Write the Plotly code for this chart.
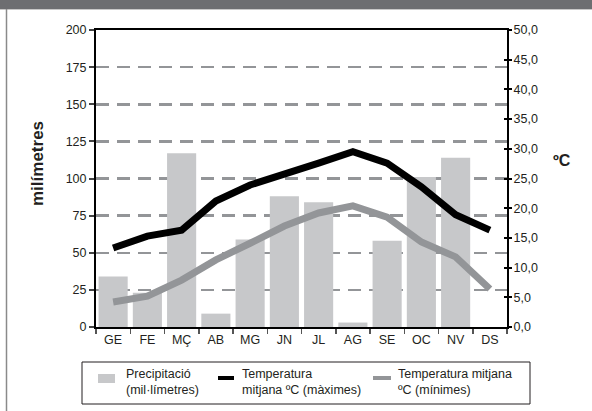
import plotly.graph_objects as go

months = ["GE", "FE", "MÇ", "AB", "MG", "JN", "JL", "AG", "SE", "OC", "NV", "DS"]
precip = [34, 23, 117, 9, 59, 88, 84, 3, 58, 101, 114, 0]
tmax = [13.3, 15.3, 16.3, 21.2, 23.9, 25.6, 27.6, 29.5, 27.6, 23.6, 18.9, 16.3]
tmin = [4.2, 5.2, 7.9, 11.3, 14.1, 17.0, 19.2, 20.4, 18.5, 14.3, 11.8, 6.4]
legend_labels = ["Precipitació<br>(mil·límetres)",
                 "Temperatura<br>mitjana ºC (màximes)",
                 "Temperatura mitjana<br>ºC (mínimes)"]

W, H = 592, 411
L, R, T, B = 96, 85, 30, 84
PW, PH = W - L - R, H - T - B


def px(x):
    return (x - L) / PW


def py(y):
    return (H - B - y) / PH


FONT = "Liberation Sans, Arial, sans-serif"
TXT = "#231f20"
BAR_C = "#c7c8ca"
MAX_C = "#000000"
MIN_C = "#939598"

fig = go.Figure()
fig.add_trace(go.Bar(
    x=months, y=precip, name=legend_labels[0],
    marker=dict(color=BAR_C, line=dict(width=0)), yaxis="y",
))
fig.add_trace(go.Scatter(
    x=months, y=tmax, name=legend_labels[1],
    mode="lines", line=dict(color=MAX_C, width=7), yaxis="y2",
))
fig.add_trace(go.Scatter(
    x=months, y=tmin, name=legend_labels[2],
    mode="lines", line=dict(color=MIN_C, width=7), yaxis="y3",
))

# manual legend (box, swatches, labels)
ly0, ly1 = 362, 404
lyc = (ly0 + ly1) / 2 - 1
shapes = [
    dict(type="rect", xref="paper", yref="paper",
         x0=px(0), x1=px(W), y0=py(9), y1=py(0),
         fillcolor="#6d6e71", line=dict(width=0), layer="above"),
    dict(type="line", xref="paper", yref="paper",
         x0=px(0), x1=px(W), y0=py(9.5), y1=py(9.5),
         line=dict(color="#c8c8c8", width=1)),
    dict(type="line", xref="paper", yref="paper",
         x0=px(6.5), x1=px(6.5), y0=py(9), y1=py(H),
         line=dict(color="#8a8a8a", width=1.5)),
    dict(type="rect", xref="paper", yref="paper",
         x0=px(82), x1=px(530), y0=py(ly1), y1=py(ly0),
         fillcolor="white", line=dict(color=TXT, width=1)),
    dict(type="rect", xref="paper", yref="paper",
         x0=px(98), x1=px(115), y0=py(383), y1=py(374),
         fillcolor=BAR_C, line=dict(width=0)),
    dict(type="line", xref="paper", yref="paper",
         x0=px(218), x1=px(234), y0=py(378), y1=py(378),
         line=dict(color=MAX_C, width=4)),
    dict(type="line", xref="paper", yref="paper",
         x0=px(373), x1=px(391), y0=py(378), y1=py(378),
         line=dict(color=MIN_C, width=4)),
]

annotations = [
    dict(text="<b>milímetres</b>", xref="paper", yref="paper",
         x=px(38), y=py(164), textangle=-90, showarrow=False,
         font=dict(size=17, color=TXT, family=FONT),
         xanchor="center", yanchor="middle"),
    dict(text="<b>ºC</b>", xref="paper", yref="paper",
         x=px(562), y=py(160), showarrow=False,
         font=dict(size=16, color=TXT, family=FONT),
         xanchor="center", yanchor="middle"),
]
for lbl, x0 in zip(legend_labels, [124, 240, 396]):
    annotations.append(dict(
        text=lbl, xref="paper", yref="paper", x=px(x0), y=py(lyc),
        xanchor="left", yanchor="middle", align="left", showarrow=False,
        font=dict(size=12.5, color=TXT, family=FONT),
    ))

fig.update_layout(
    width=W, height=H,
    margin=dict(l=L, r=R, t=T, b=B, pad=0, autoexpand=False),
    paper_bgcolor="white", plot_bgcolor="white",
    separators=",.",
    font=dict(family=FONT, size=12, color=TXT),
    bargap=0.15,
    showlegend=False,
    hovermode=False,
    xaxis=dict(
        showline=True, linecolor="black", linewidth=2, mirror=True,
        ticks="outside", tickson="boundaries", ticklen=5, tickwidth=1.5,
        tickcolor="#555555", showgrid=False, zeroline=False,
        tickfont=dict(size=12.5, color=TXT), fixedrange=True,
    ),
    yaxis=dict(
        range=[0, 200], dtick=25, tick0=0,
        showline=True, linecolor="black", linewidth=2,
        ticks="outside", ticklen=5, tickwidth=2, tickcolor="#444444",
        showgrid=True, gridcolor="#939598", gridwidth=2.5, griddash="13px,8px",
        zeroline=False, tickfont=dict(size=12.5, color=TXT),
    ),
    yaxis2=dict(
        range=[0, 50], dtick=5, tick0=0, tickformat=".1f",
        overlaying="y", side="right", anchor="x",
        showline=True, linecolor="black", linewidth=2,
        ticks="outside", ticklen=3, tickwidth=2, tickcolor="black",
        ticklabelstandoff=-1,
        showgrid=False, zeroline=False, tickfont=dict(size=12.5, color=TXT),
    ),
    yaxis3=dict(
        range=[0, 50], dtick=5, tick0=0,
        overlaying="y", side="right", anchor="x",
        showline=False, showticklabels=False,
        ticks="inside", ticklen=3, tickwidth=2, tickcolor="black",
        showgrid=False, zeroline=False,
    ),
    annotations=annotations,
    shapes=shapes,
)

fig.write_html(
    "out.html",
    config={"displayModeBar": False, "staticPlot": True},
    post_script="document.body.style.margin='0';document.body.style.overflow='hidden';",
)
